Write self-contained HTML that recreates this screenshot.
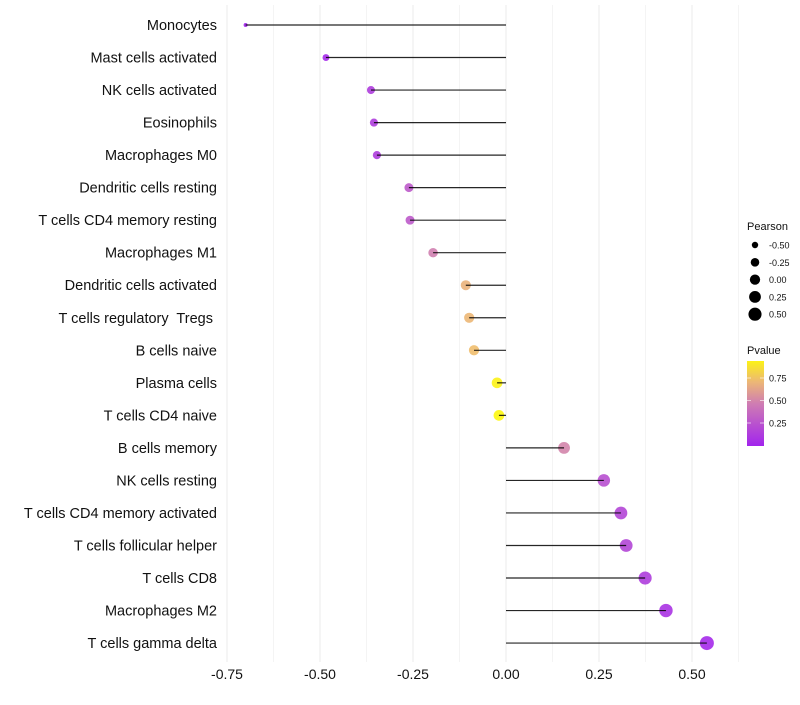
<!DOCTYPE html>
<html><head><meta charset="utf-8"><style>
body{margin:0;background:#fff;}
svg text{font-family:"Liberation Sans",sans-serif;white-space:pre;}
</style></head><body>
<svg id="c" width="800" height="700"></svg>
<script>
const categories=["Monocytes","Mast cells activated","NK cells activated","Eosinophils","Macrophages M0","Dendritic cells resting","T cells CD4 memory resting","Macrophages M1","Dendritic cells activated","T cells regulatory  Tregs ","B cells naive","Plasma cells","T cells CD4 naive","B cells memory","NK cells resting","T cells CD4 memory activated","T cells follicular helper","T cells CD8","Macrophages M2","T cells gamma delta"];
const pearson=[-0.70,-0.484,-0.363,-0.355,-0.347,-0.261,-0.258,-0.196,-0.108,-0.099,-0.086,-0.024,-0.019,0.156,0.263,0.309,0.323,0.374,0.43,0.54];
const pvalue=[0.02,0.05,0.15,0.15,0.15,0.3,0.3,0.5,0.7,0.72,0.75,0.95,0.97,0.52,0.25,0.2,0.2,0.15,0.1,0.05];
const xTicks=[-0.75,-0.5,-0.25,0,0.25,0.5];
const xTickLabels=["-0.75","-0.50","-0.25","0.00","0.25","0.50"];
const sizeLegend=[-0.5,-0.25,0,0.25,0.5];
const sizeLegendLabels=["-0.50","-0.25","0.00","0.25","0.50"];
const colorTicks=[0.25,0.5,0.75];

const svg=document.getElementById('c');
const NS="http://www.w3.org/2000/svg";
function mk(t,a,parent){const e=document.createElementNS(NS,t);for(const k in a)e.setAttribute(k,a[k]);(parent||svg).appendChild(e);return e;}
const x=v=>506+v*372;
const y=i=>25+i*32.53;
const r=v=>Math.sqrt(Math.max(1,4+36.3*(v+0.7)));
function col(p){
 const stops=[[0,[160,32,240]],[0.5,[208,128,176]],[0.75,[240,190,110]],[1,[255,255,0]]];
 for(let i=1;i<stops.length;i++){if(p<=stops[i][0]){const a=stops[i-1],b=stops[i];const t=(p-a[0])/(b[0]-a[0]);return 'rgb('+a[1].map((c,j)=>Math.round(c+(b[1][j]-c)*t)).join(',')+')';}}
 return 'rgb(255,255,0)';
}
const grid=mk('g',{});


for(let v=-0.75;v<=0.626;v+=0.125){mk('line',{x1:x(v),x2:x(v),y1:5,y2:662,stroke:Math.abs((v*4)%1)<0.01?'#ebebeb':'#f4f4f4','stroke-width':1},grid);}
categories.forEach((c,i)=>{
 const t=mk('text',{x:217,y:y(i)+5,'text-anchor':'end','font-size':14.5,fill:'#111'});
 t.textContent=c;
 
 
 const pt=mk('circle',{cx:x(pearson[i]),cy:y(i),r:r(pearson[i]),fill:col(pvalue[i]),'fill-opacity':0.9});
 
 
 const ln=mk('line',{x1:x(0),x2:x(pearson[i]),y1:y(i),y2:y(i),stroke:'#000','stroke-width':1.2,'stroke-opacity':0.85});
 
 
});
xTicks.forEach((v,i)=>{
 const t=mk('text',{x:x(v),y:679,'text-anchor':'middle','font-size':14,fill:'#111'});
 t.textContent=xTickLabels[i];
 
 
});
const lt=mk('text',{x:747,y:230,'font-size':11,fill:'#111'});lt.textContent='Pearson';


sizeLegend.forEach((v,i)=>{
 const cy=245+i*17.3;
 const c=mk('circle',{cx:755,cy:cy,r:r(v)*0.95,fill:'#000'});
 
 
 const t=mk('text',{x:769,y:cy+3.5,'font-size':9,fill:'#111'});t.textContent=sizeLegendLabels[i];
 
 
});
const ct=mk('text',{x:747,y:354,'font-size':11,fill:'#111'});ct.textContent='Pvalue';


const defs=mk('defs',{});
const g=mk('linearGradient',{id:'pg',x1:0,y1:1,x2:0,y2:0},defs);
[0,0.25,0.5,0.75,1].forEach(s=>mk('stop',{offset:s,'stop-color':col(0.02+s*0.93)},g));
const cb=mk('rect',{x:747,y:361,width:17,height:85,fill:'url(#pg)'});


const cy0=445.5,cs=90;
colorTicks.forEach(v=>{
 mk('line',{x1:747,x2:751,y1:cy0-v*cs,y2:cy0-v*cs,stroke:'#fff','stroke-opacity':0.6});
 mk('line',{x1:760,x2:764,y1:cy0-v*cs,y2:cy0-v*cs,stroke:'#fff','stroke-opacity':0.6});
 const t=mk('text',{x:769,y:cy0-v*cs+3.5,'font-size':9,fill:'#111'});t.textContent=v.toFixed(2);
 
 
});
</script>
</body></html>
